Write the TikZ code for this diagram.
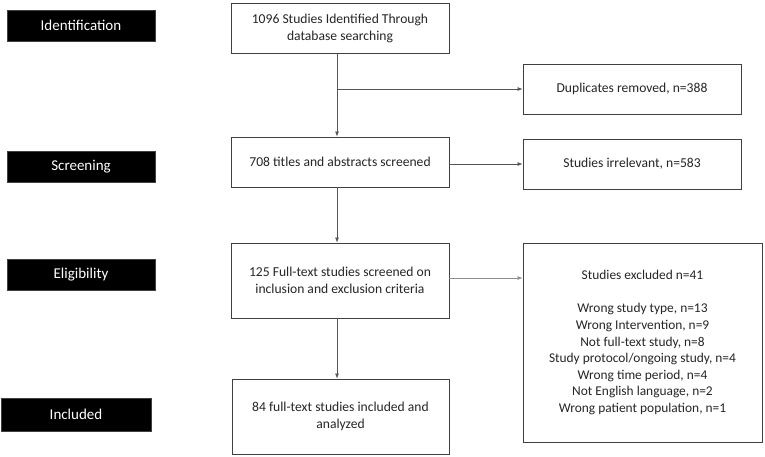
\documentclass[tikz,border=0pt]{standalone}
\usepackage{fontspec}
\setmainfont{Carlito}
\usetikzlibrary{arrows.meta}
\definecolor{edge}{HTML}{404040}
\definecolor{conn}{HTML}{555555}
\begin{document}
\begin{tikzpicture}[x=1pt,y=-1pt,
  stage/.style={fill=black,draw=edge,line width=0.6pt,text=white,inner sep=0pt,
    font=\fontsize{15}{17}\selectfont,minimum width=148pt,minimum height=31pt},
  flowbox/.style={draw=edge,line width=0.9pt,fill=white,inner sep=0pt,align=center,
    font=\fontsize{13.6}{17}\selectfont,minimum width=218pt,text=black!85},
  arr/.style={draw=conn,line width=0.7pt,-{Latex[length=5pt,width=4pt]}}]
\useasboundingbox (0,0) rectangle (765,456);
% stage labels
\node[stage] (idl) at (81,25.5) {Identification};
\node[stage] (scr) at (81,167) {Screening};
\node[stage] (eli) at (81,275) {Eligibility};
\node[stage,minimum width=150pt,minimum height=33pt] (inc) at (76,414.5) {Included};
% main flow
\node[flowbox,minimum height=50pt] (b1) at (340,28) {1096 Studies Identified Through\\database searching};
\node[flowbox,minimum height=50pt] (b2) at (340,162) {708 titles and abstracts screened};
\node[flowbox,minimum height=75pt] (b3) at (340,280.5) {125 Full-text studies screened on\\inclusion and exclusion criteria};
\node[flowbox,minimum height=75pt,minimum width=217pt] (b4) at (340.5,416.5) {84 full-text studies included and\\analyzed};
% side boxes
\node[flowbox,minimum height=50pt] (d1) at (632,89) {Duplicates removed, n=388};
\node[flowbox,minimum height=50pt] (d2) at (632,164) {Studies irrelevant, n=583};
\node[flowbox,minimum height=199pt,minimum width=239pt,font=\fontsize{13.4}{16.6}\selectfont] (d3) at (642.5,342.5)
  {Studies excluded n=41\\[16.6pt]Wrong study type, n=13\\Wrong Intervention, n=9\\Not full-text study, n=8\\Study protocol/ongoing study, n=4\\Wrong time period, n=4\\Not English language, n=2\\Wrong patient population, n=1};
% connectors
\coordinate (vx) at (337,0);
\coordinate (ey) at (0,278);
\draw[arr] (b1.south -| vx) -- (b2.north -| vx);
\draw[arr] (vx |- d1.west) -- (d1.west);
\draw[arr] (b2.east |- d2.west) -- (d2.west);
\draw[arr] (b2.south -| vx) -- (b3.north -| vx);
\draw[arr,draw=black!45] (b3.east |- ey) -- (d3.west |- ey);
\draw[arr] (b3.south -| vx) -- (b4.north -| vx);
\end{tikzpicture}
\end{document}
